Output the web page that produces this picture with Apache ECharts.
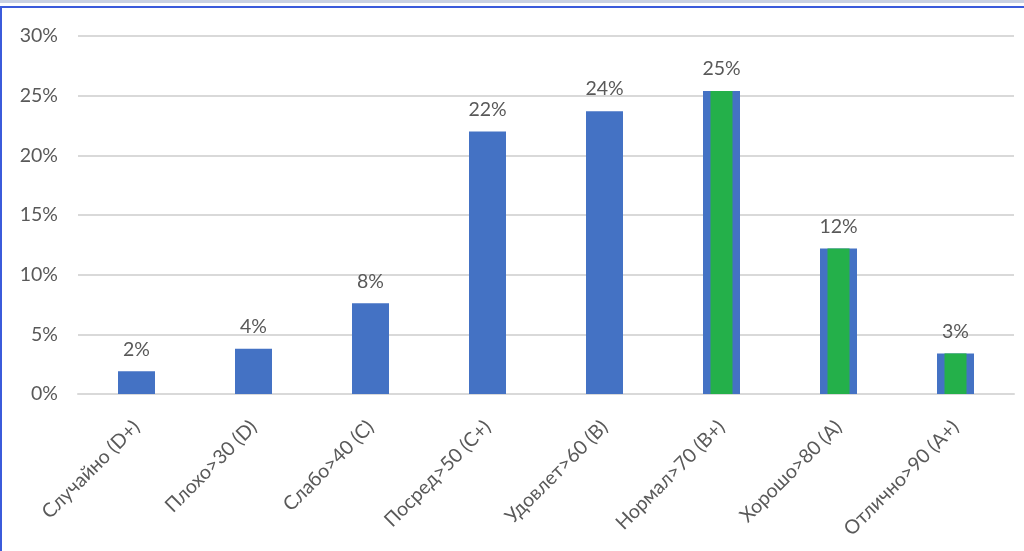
<!DOCTYPE html>
<html><head><meta charset="utf-8">
<script src="https://cdn.jsdelivr.net/npm/echarts@6/dist/echarts.min.js"></script>
<style>
html,body{margin:0;padding:0;background:#fff;width:1024px;height:551px;overflow:hidden;}
#topband{position:absolute;left:0;top:0;width:1024px;height:3px;background:#c9d1e3;}
#topline{position:absolute;left:0;top:6px;width:1024px;height:2px;background:#3b5bdb;}
#leftline{position:absolute;left:0;top:6px;width:2px;height:545px;background:#3b5bdb;}
#chart{position:absolute;left:0;top:0;width:1024px;height:551px;}
</style></head>
<body>
<div id="chart"></div>
<div id="topband"></div><div id="topline"></div><div id="leftline"></div>
<script>
const categories = ['Случайно (D+)','Плохо>30 (D)','Слабо>40 (C)','Посред>50 (C+)','Удовлет>60 (B)','Нормал>70 (B+)','Хорошо>80 (A)','Отлично>90 (A+)'];
const values = [1.9, 3.8, 7.6, 22.0, 23.7, 25.4, 12.2, 3.4];
const highlight = [null, null, null, null, null, 25.4, 12.2, 3.4];
const yTicks = [0, 5, 10, 15, 20, 25, 30];

const chart = echarts.init(document.getElementById('chart'));
const font = 'Lato, "Open Sans", sans-serif';
chart.setOption({
  animation: false,
  grid: {left: 78, right: 10, top: 36, bottom: 157},
  xAxis: [{
    type: 'category', data: categories,
    axisLine: {show: true, lineStyle: {color: '#d9d9d9', width: 2}},
    axisTick: {show: false},
    axisLabel: {rotate: 45, interval: 0, color: '#595959', fontSize: 19.5, fontFamily: font, margin: 30}
  },{
    type: 'category', data: categories, show: false
  }],
  yAxis: {
    type: 'value', min: yTicks[0], max: yTicks[yTicks.length-1], interval: 5,
    axisLine: {show: false}, axisTick: {show: false},
    splitLine: {lineStyle: {color: '#d9d9d9', width: 2}},
    axisLabel: {formatter: v => v + '%', color: '#595959', fontSize: 19.5, fontFamily: font, margin: 20}
  },
  series: [{
    type: 'bar', data: values, xAxisIndex: 0, barWidth: 37,
    itemStyle: {color: '#4472C4'},
    label: {show: true, position: 'top', distance: 12, formatter: p => Math.round(p.value) + '%',
      color: '#595959', fontSize: 19.5, fontFamily: font}
  },{
    type: 'bar', data: highlight, xAxisIndex: 1, barWidth: 22,
    itemStyle: {color: '#24B04A'}
  }]
});
</script>
</body></html>
